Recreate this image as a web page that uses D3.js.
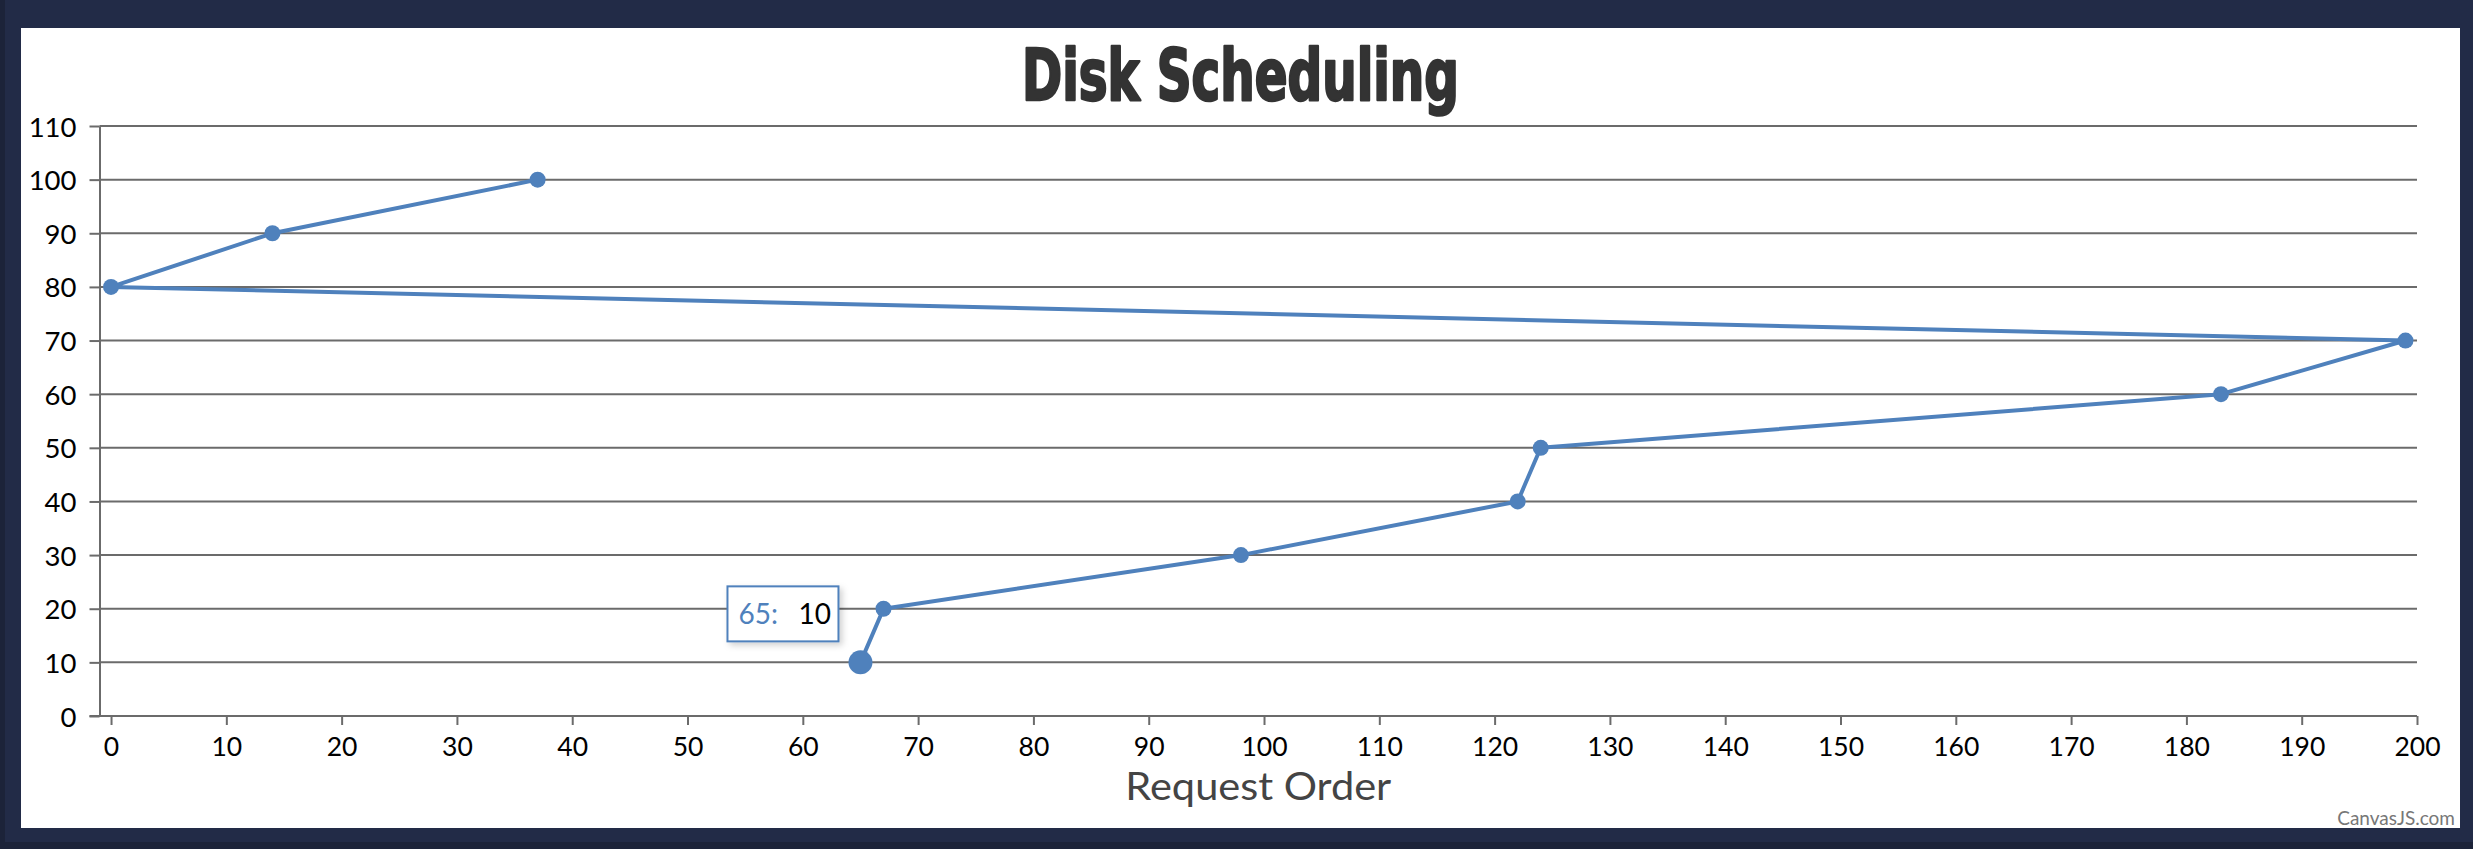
<!DOCTYPE html>
<html>
<head>
<meta charset="utf-8">
<script src="https://cdn.jsdelivr.net/npm/d3@7"></script>
<style>
  html, body { margin: 0; padding: 0; background: #222b47; }
  svg { display: block; }
</style>
</head>
<body>
<svg id="chart" width="2473" height="849"></svg>
<script>
// ---- data ----
const cylinders = [65, 67, 98, 122, 124, 183, 199, 0, 14, 37];
const requestOrder = [10, 20, 30, 40, 50, 60, 70, 80, 90, 100];
const xTickValues = [0, 10, 20, 30, 40, 50, 60, 70, 80, 90, 100, 110, 120, 130, 140, 150, 160, 170, 180, 190, 200];
const yTickValues = [0, 10, 20, 30, 40, 50, 60, 70, 80, 90, 100, 110];
const titleText = "Disk Scheduling";
const xAxisTitle = "Request Order";
const creditText = "CanvasJS.com";
const highlightIndex = 0;

const W = 2473, H = 849;
const svg = d3.select("#chart");
const lineColor = "#4F81BC";
const gridColor = "#6b6b6b";
const font = "Lato, 'Open Sans', sans-serif";

// background: dark frame + white panel
svg.append("rect").attr("x", 0).attr("y", 0).attr("width", W).attr("height", H).attr("fill", "#222b47");
svg.append("rect").attr("x", 0).attr("y", 0).attr("width", 5).attr("height", H).attr("fill", "#1c2339");
svg.append("rect").attr("x", 0).attr("y", 842).attr("width", W).attr("height", 7).attr("fill", "#1c2339");
svg.append("rect").attr("x", 21).attr("y", 28).attr("width", 2439).attr("height", 800).attr("fill", "#ffffff");

const x = d3.scaleLinear().domain([-1, 200]).range([99.5, 2417]);
const y = d3.scaleLinear().domain([0, 110]).range([716, 126]);

// gridlines
svg.append("g").selectAll("line").data(yTickValues.filter(v => v > 0)).join("line")
  .attr("x1", x.range()[0]).attr("x2", x.range()[1])
  .attr("y1", d => y(d)).attr("y2", d => y(d))
  .attr("stroke", gridColor).attr("stroke-width", 2);

// x axis
const gx = svg.append("g").attr("transform", `translate(0,${y(0)})`)
  .call(d3.axisBottom(x).tickValues(xTickValues).tickSize(9).tickSizeOuter(0).tickFormat(d3.format("d")));
gx.select(".domain").attr("stroke", gridColor).attr("stroke-width", 2)
  .attr("d", `M${x.range()[0] - 10},0H${x.range()[1]}`);
gx.selectAll(".tick line").attr("stroke", gridColor).attr("stroke-width", 2);
gx.selectAll(".tick text").attr("y", 40).attr("dy", 0)
  .attr("font-family", font).attr("font-size", 26.5).attr("fill", "#000");

// y axis
const gy = svg.append("g").attr("transform", `translate(${x.range()[0]},0)`)
  .call(d3.axisLeft(y).tickValues(yTickValues).tickSize(10).tickSizeOuter(0).tickFormat(d3.format("d")));
gy.select(".domain").attr("stroke", gridColor).attr("stroke-width", 2);
gy.selectAll(".tick line").attr("stroke", gridColor).attr("stroke-width", 2);
gy.selectAll(".tick text").attr("x", -23).attr("dy", 0).attr("y", 10)
  .attr("font-family", font).attr("font-size", 27.5).attr("fill", "#000");

// title
svg.append("text").attr("x", 1240.5).attr("y", 100).attr("text-anchor", "middle")
  .attr("font-family", "'DejaVu Sans Condensed', 'DejaVu Sans', sans-serif")
  .attr("font-weight", "bold").attr("font-size", 71).attr("fill", "#333333")
  .attr("stroke", "#333333").attr("stroke-width", 2.5).attr("stroke-linejoin", "round")
  .attr("textLength", 437).attr("lengthAdjust", "spacingAndGlyphs")
  .text(titleText);

// axis title
svg.append("text").attr("x", (x.range()[0] + x.range()[1]) / 2).attr("y", 800)
  .attr("text-anchor", "middle").attr("font-family", font).attr("font-size", 38)
  .attr("fill", "#444444").attr("textLength", 266).attr("lengthAdjust", "spacingAndGlyphs")
  .text(xAxisTitle);

// series
const pts = cylinders.map((c, i) => ({ c, o: requestOrder[i] }));
svg.append("path").datum(pts)
  .attr("d", d3.line().x(d => x(d.c)).y(d => y(d.o)))
  .attr("fill", "none").attr("stroke", lineColor).attr("stroke-width", 4)
  .attr("stroke-linejoin", "round");
svg.append("g").selectAll("circle").data(pts).join("circle")
  .attr("cx", d => x(d.c)).attr("cy", d => y(d.o))
  .attr("r", (d, i) => i === highlightIndex ? 12 : 8)
  .attr("fill", lineColor);

// tooltip
const defs = svg.append("defs");
const f = defs.append("filter").attr("id", "shadow").attr("x", "-20%").attr("y", "-20%").attr("width", "150%").attr("height", "150%");
f.append("feDropShadow").attr("dx", 3).attr("dy", 3).attr("stdDeviation", 3).attr("flood-color", "#000").attr("flood-opacity", 0.18);
const hp = pts[highlightIndex];
const tx = x(hp.c) - 133, ty = y(hp.o) - 76;
const tip = svg.append("g").attr("transform", `translate(${tx},${ty})`);
tip.append("rect").attr("x", 0).attr("y", 0).attr("width", 111).attr("height", 55)
  .attr("fill", "#fff").attr("stroke", lineColor).attr("stroke-width", 2).attr("filter", "url(#shadow)");
tip.append("text").attr("x", 11).attr("y", 38).attr("font-family", font).attr("font-size", 28)
  .attr("fill", lineColor).text(hp.c + ":");
tip.append("text").attr("x", 71).attr("y", 38).attr("font-family", font).attr("font-size", 28)
  .attr("fill", "#000").text(hp.o);

// credit
svg.append("text").attr("x", 2455).attr("y", 825).attr("text-anchor", "end")
  .attr("font-family", font).attr("font-size", 19).attr("fill", "#777")
  .text(creditText);
</script>
</body>
</html>
